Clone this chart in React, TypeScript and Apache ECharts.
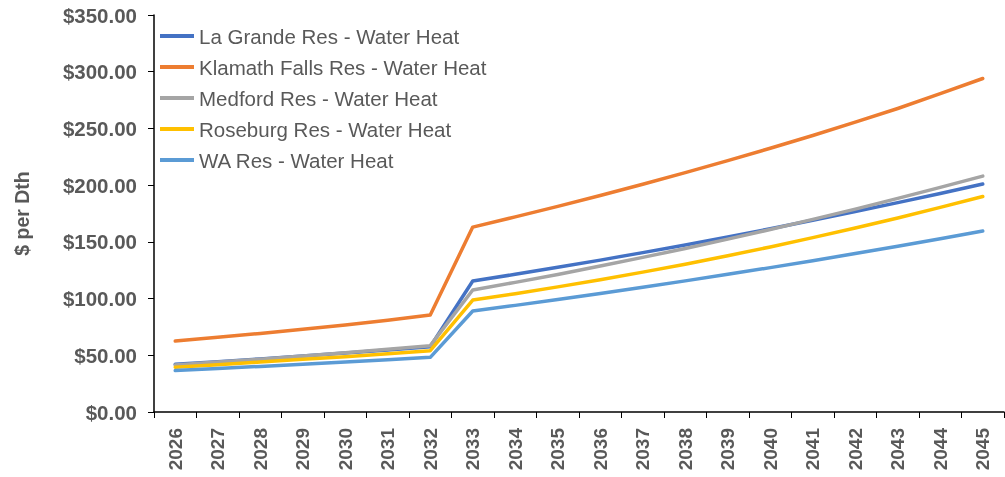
import React, { useEffect, useRef } from "react";
import * as echarts from "echarts";

const years = ["2026","2027","2028","2029","2030","2031","2032","2033","2034","2035","2036","2037","2038","2039","2040","2041","2042","2043","2044","2045"];
const seriesNames = [
  "La Grande Res - Water Heat",
  "Klamath Falls Res - Water Heat",
  "Medford Res - Water Heat",
  "Roseburg Res - Water Heat",
  "WA Res - Water Heat",
];
const laGrande = [42, 44.3, 46.8, 49.3, 52, 54.7, 57.5, 115.5, 121.4, 127.6, 133.9, 140.5, 147.3, 154.3, 161.5, 169, 176.7, 184.6, 192.7, 201];
const klamath = [62.6, 65.8, 69.3, 73, 76.8, 80.9, 85.5, 163, 172, 181.3, 190.9, 200.8, 211, 221.6, 232.5, 243.8, 255.5, 267.6, 280.6, 294];
const medford = [41.5, 44, 46.6, 49.3, 52.2, 55.3, 58.5, 107.6, 114.3, 121.3, 128.7, 136.3, 144.2, 152.4, 160.9, 169.8, 178.9, 188.3, 198, 208];
const roseburg = [39.5, 41.7, 44, 46.4, 48.8, 51.4, 54, 98.7, 104.3, 110.3, 116.6, 123.3, 130.3, 137.8, 145.5, 153.7, 162.2, 171.1, 180.4, 190];
const wa = [36.5, 38.3, 40.2, 42.1, 44.1, 46.1, 48.2, 89, 94, 99.2, 104.5, 110, 115.6, 121.4, 127.3, 133.4, 139.7, 146.1, 152.7, 159.5];
const yTicks = [0, 50, 100, 150, 200, 250, 300, 350];

const colors = ["#4472C4", "#ED7D31", "#A5A5A5", "#FFC000", "#5B9BD5"];
const values = [laGrande, klamath, medford, roseburg, wa];

export default function App() {
  const ref = useRef<HTMLDivElement>(null);
  useEffect(() => {
    if (!ref.current) return;
    const chart = echarts.init(ref.current, null, { renderer: "svg" });
    const font = "Liberation Sans, Arial, sans-serif";
    chart.setOption({
      animation: false,
      color: colors,
      textStyle: { fontFamily: font },
      grid: { left: 154, right: 1, top: 15, bottom: 65, containLabel: false },
      legend: {
        orient: "vertical",
        left: 160,
        top: 25.5,
        padding: 0,
        icon: "rect",
        itemWidth: 34,
        itemHeight: 4,
        itemGap: 10,
        textStyle: { fontFamily: font, fontSize: 20.5, color: "#595959", lineHeight: 20 },
        data: seriesNames,
      },
      xAxis: {
        type: "category",
        data: years,
        boundaryGap: true,
        axisLine: { lineStyle: { color: "#000", width: 1.5 } },
        axisTick: { show: true, length: 6, alignWithLabel: false, lineStyle: { color: "#000" } },
        axisLabel: {
          rotate: 90,
          margin: 16,
          interval: 0,
          fontFamily: font,
          fontSize: 19,
          fontWeight: "bold",
          color: "#595959",
        },
        splitLine: { show: false },
      },
      yAxis: {
        type: "value",
        min: yTicks[0],
        max: yTicks[yTicks.length - 1],
        interval: 50,
        name: "$ per Dth",
        nameLocation: "middle",
        nameGap: 122,
        nameRotate: 90,
        nameTextStyle: { fontFamily: font, fontSize: 19.5, fontWeight: "bold", color: "#595959" },
        axisLine: { show: true, lineStyle: { color: "#000", width: 1.5 } },
        axisTick: { show: true, length: 6, lineStyle: { color: "#000" } },
        axisLabel: {
          margin: 17,
          fontFamily: font,
          fontSize: 20.5,
          fontWeight: "bold",
          color: "#595959",
          formatter: (v: number) => "$" + v.toFixed(2),
        },
        splitLine: { show: false },
      },
      series: seriesNames.map((name, i) => ({
        name,
        type: "line",
        data: values[i],
        symbol: "none",
        lineStyle: { width: 3.5, color: colors[i], cap: "round", join: "round" },
        itemStyle: { color: colors[i] },
      })),
    });
    return () => chart.dispose();
  }, []);
  return <div ref={ref} style={{ position: "fixed", left: 0, top: 0, width: 1005, height: 477 }} />;
}
